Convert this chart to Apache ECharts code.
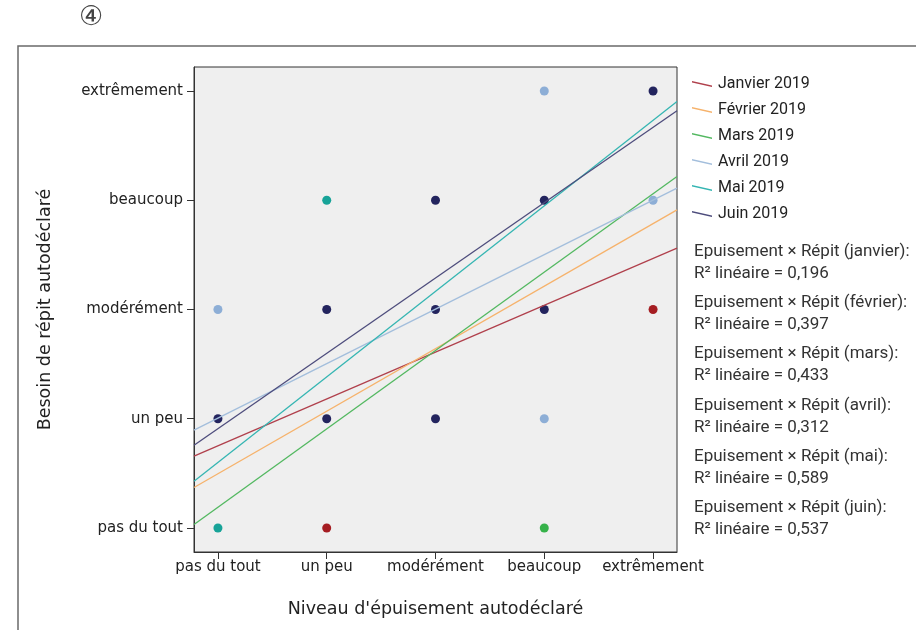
<!DOCTYPE html>
<html><head><meta charset="utf-8">
<script src="https://cdn.jsdelivr.net/npm/echarts@6/dist/echarts.min.js"></script>
<style>html,body{margin:0;padding:0;background:#fff}#c{width:916px;height:630px}</style>
</head><body><div id="c"></div>
<script>
// Category levels (both axes)
const levels = ['pas du tout', 'un peu', 'modérément', 'beaucoup', 'extrêmement'];
const levelValues = [1, 2, 3, 4, 5];
// Months / series names
const months = ['Janvier 2019', 'Février 2019', 'Mars 2019', 'Avril 2019', 'Mai 2019', 'Juin 2019'];
const lineColors = ['#b0404c', '#f6b26b', '#52b860', '#a3bedc', '#34b5b2', '#4d4c7c'];
// Fit line values read at the plot edges (x = 0.78 and x = 5.22)
const fitX = [0.78, 5.22];
const fitStart = [1.657, 1.370, 1.031, 1.895, 1.428, 1.758];
const fitEnd = [3.561, 3.912, 4.217, 4.111, 4.905, 4.819];
// Observed points (x, y) by visible colour
const ptsJanvier = [[2, 1], [5, 3]];
const ptsMars = [[4, 1]];
const ptsAvril = [[4, 2], [1, 3], [5, 4], [4, 5]];
const ptsMai = [[1, 1], [2, 4]];
const ptsJuin = [[1, 2], [2, 2], [3, 2], [2, 3], [3, 3], [4, 3], [3, 4], [4, 4], [5, 5]];
const pointColors = {Janvier: '#a51d22', Mars: '#36b24a', Avril: '#8daed6', Mai: '#17a398', Juin: '#23245e'};
// R² annotations
const r2Labels = ['janvier', 'février', 'mars', 'avril', 'mai', 'juin'];
const r2Values = ['0,196', '0,397', '0,433', '0,312', '0,589', '0,537'];

const tickFont = 'DejaVu Sans';
const sideFont = 'Roboto';

const series = [];
const scatterSets = [['Janvier', ptsJanvier], ['Mars', ptsMars], ['Avril', ptsAvril], ['Mai', ptsMai], ['Juin', ptsJuin]];
scatterSets.forEach(([k, pts]) => {
  series.push({type: 'scatter', name: 'pts ' + k, data: pts, symbolSize: 9, z: 2,
    itemStyle: {color: pointColors[k], opacity: 1}, silent: true});
});
months.forEach((m, i) => {
  series.push({type: 'line', name: m, color: lineColors[i], showSymbol: false, symbol: 'none', z: 3,
    data: [[fitX[0], fitStart[i]], [fitX[1], fitEnd[i]]],
    lineStyle: {width: 1.3, color: lineColors[i]}, clip: true, silent: true, animation: false});
});

const graphics = [
  {type: 'rect', shape: {x: 18, y: 46, width: 1200, height: 900}, style: {fill: 'none', stroke: '#6a6a6a', lineWidth: 1.5}, z: -1, silent: true},
  {type: 'text', x: 91, y: 18, style: {text: '④', font: '27px "DejaVu Sans", "Noto Sans CJK JP"', fill: '#444', textAlign: 'center', textVerticalAlign: 'middle'}}
];
const r2Top = 251.5;
r2Labels.forEach((lab, i) => {
  const y0 = r2Top + i * 51.3;
  graphics.push({type: 'text', x: 694, y: y0, style: {text: 'Epuisement × Répit (' + lab + '):', font: '17px ' + sideFont, fill: '#333', textVerticalAlign: 'middle'}});
  graphics.push({type: 'text', x: 694, y: y0 + 22, style: {text: 'R² linéaire = ' + r2Values[i], font: '17px ' + sideFont, fill: '#333', textVerticalAlign: 'middle'}});
});

const axisCommon = {
  type: 'value', min: 0.78, max: 5.22,
  axisLine: {show: true, lineStyle: {color: '#333', width: 1}},
  axisTick: {show: true, length: 7, customValues: levelValues, lineStyle: {color: '#333'}},
  axisLabel: {customValues: levelValues, formatter: v => levels[Math.round(v) - 1] || '', color: '#222', fontFamily: tickFont, fontSize: 15},
  splitLine: {show: false},
  nameLocation: 'middle',
  nameTextStyle: {color: '#222', fontFamily: tickFont, fontSize: 17.5}
};

const chart = echarts.init(document.getElementById('c'), null, {renderer: 'canvas'});
chart.setOption({
  animation: false,
  backgroundColor: '#fff',
  grid: {left: 194, top: 67, width: 483, height: 485, show: true, backgroundColor: '#efefef', borderColor: '#333', borderWidth: 1},
  xAxis: Object.assign({}, axisCommon, {name: "Niveau d'épuisement autodéclaré", nameGap: 48,
    axisLabel: Object.assign({}, axisCommon.axisLabel, {margin: 8})}),
  yAxis: Object.assign({}, axisCommon, {name: 'Besoin de répit autodéclaré', nameGap: 140, nameRotate: 90,
    axisLabel: Object.assign({}, axisCommon.axisLabel, {margin: 11})}),
  legend: {
    data: months.map(m => ({name: m})),
    orient: 'vertical', left: 687, top: 71,
    icon: 'path://M0,0L20,4.5L20,6L0,1.5Z',
    itemWidth: 20, itemHeight: 6, itemGap: 10,
    textStyle: {fontFamily: sideFont, fontSize: 16, color: '#222', lineHeight: 16, padding: [0, 0, 0, 1]},
    selectedMode: false
  },
  graphic: graphics,
  series: series
});
</script></body></html>
